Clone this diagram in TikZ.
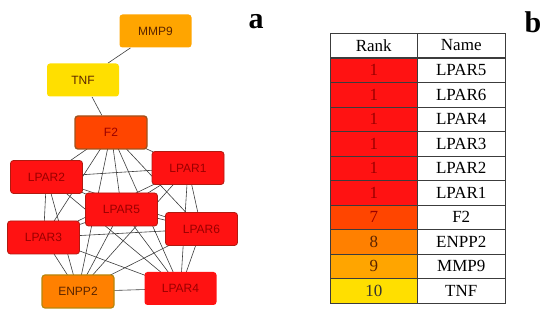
\documentclass[tikz,border=0pt]{standalone}
\usepackage{fontspec}
\setmainfont{Liberation Serif}
\newfontfamily\netfont{Liberation Sans}
\usetikzlibrary{positioning, backgrounds}

\definecolor{hubred}{HTML}{FF1212}
\definecolor{hubredline}{HTML}{B01A10}
\definecolor{hubredtext}{HTML}{9A0000}
\definecolor{f2fill}{HTML}{FF4500}
\definecolor{f2line}{HTML}{A0521C}
\definecolor{enppfill}{HTML}{FF8000}
\definecolor{enppline}{HTML}{B8860B}
\definecolor{mmpfill}{HTML}{FFA500}
\definecolor{tnffill}{HTML}{FFDF00}
\definecolor{browntext}{HTML}{5A2400}
\definecolor{edgegray}{HTML}{3C3C3C}

\tikzset{
  gene/.style={rectangle, rounded corners=3pt, minimum width=72pt, minimum height=33pt,
    inner sep=0pt, line width=0.8pt, font=\netfont\fontsize{12}{14}\selectfont},
  lpar/.style={gene, fill=hubred, draw=hubredline, text=hubredtext},
  link/.style={draw=edgegray, line width=0.6pt},
  cell/.style={rectangle, draw=edgegray, line width=0.7pt, minimum width=87.5pt,
    minimum height=24.5pt, inner sep=0pt, font=\fontsize{17}{19}\selectfont},
  panel/.style={font=\bfseries\fontsize{30}{32}\selectfont}
}

\begin{document}
\begin{tikzpicture}[x=1pt, y=-1pt]
  \useasboundingbox (0,0) rectangle (550,320);

  % network (panel a)
  \node[gene, fill=mmpfill, text=browntext] (MMP9) at (155.5,31) {MMP9};
  \node[gene, fill=tnffill, text=browntext] (TNF) at (83,80) {TNF};
  \node[gene, fill=f2fill, draw=f2line, line width=1.4pt, text=hubredtext] (F2) at (111,132.5) {F2};
  \node[lpar] (LPAR1) at (188,168) {LPAR1};
  \node[lpar] (LPAR2) at (46.5,177) {LPAR2};
  \node[lpar] (LPAR5) at (121.5,209.5) {LPAR5};
  \node[lpar] (LPAR6) at (201.5,229) {LPAR6};
  \node[lpar] (LPAR3) at (43.5,237.5) {LPAR3};
  \node[gene, fill=enppfill, draw=enppline, line width=1.2pt, text=browntext] (ENPP2) at (78,291.5) {ENPP2};
  \node[lpar, draw=none] (LPAR4) at (180.5,288.5) {LPAR4};

  % interactions, kept behind the boxes
  \begin{scope}[on background layer]
    \draw[link] (MMP9) -- (TNF);
    \draw[link] (TNF) -- (F2);
    \foreach \b in {LPAR1,LPAR2,LPAR3,LPAR4,LPAR5,LPAR6,ENPP2}
      \draw[link] (F2.center) -- (\b.center);
    \foreach \a/\b in {LPAR1/LPAR2, LPAR1/LPAR3, LPAR1/LPAR4, LPAR1/LPAR5, LPAR1/LPAR6,
                       LPAR2/LPAR3, LPAR2/LPAR4, LPAR2/LPAR5, LPAR2/LPAR6,
                       LPAR3/LPAR4, LPAR3/LPAR5, LPAR3/LPAR6,
                       LPAR4/LPAR5, LPAR4/LPAR6, LPAR5/LPAR6}
      \draw[link] (\a.center) -- (\b.center);
    \foreach \b in {LPAR1,LPAR2,LPAR3,LPAR4,LPAR5,LPAR6}
      \draw[link] (ENPP2.center) -- (\b.center);
  \end{scope}

  \node[panel] (labA) at (256,22) {a};
  \node[panel] (labB) at (533,22) {b};

  % ranking table (panel b)
  \node[cell, fill=white] (rkhead) at (373.75,45.5) {Rank};
  \node[cell, fill=white] (nmhead) at (461.25,45.5) {Name};
  \foreach \rk/\nm/\fc/\tc [count=\i] in {1/LPAR5/hubred/hubredtext, 1/LPAR6/hubred/hubredtext,
      1/LPAR4/hubred/hubredtext, 1/LPAR3/hubred/hubredtext, 1/LPAR2/hubred/hubredtext,
      1/LPAR1/hubred/hubredtext, 7/F2/f2fill/hubredtext, 8/ENPP2/enppfill/browntext,
      9/MMP9/mmpfill/browntext, 10/TNF/tnffill/black!80}
  {
    \node[cell, fill=\fc, text=\tc] (rk\i) at (373.75,{58+24.5*(\i-0.5)}) {\rk};
    \node[cell, fill=white] (nm\i) at (461.25,{58+24.5*(\i-0.5)}) {\nm};
  }
\end{tikzpicture}
\end{document}
